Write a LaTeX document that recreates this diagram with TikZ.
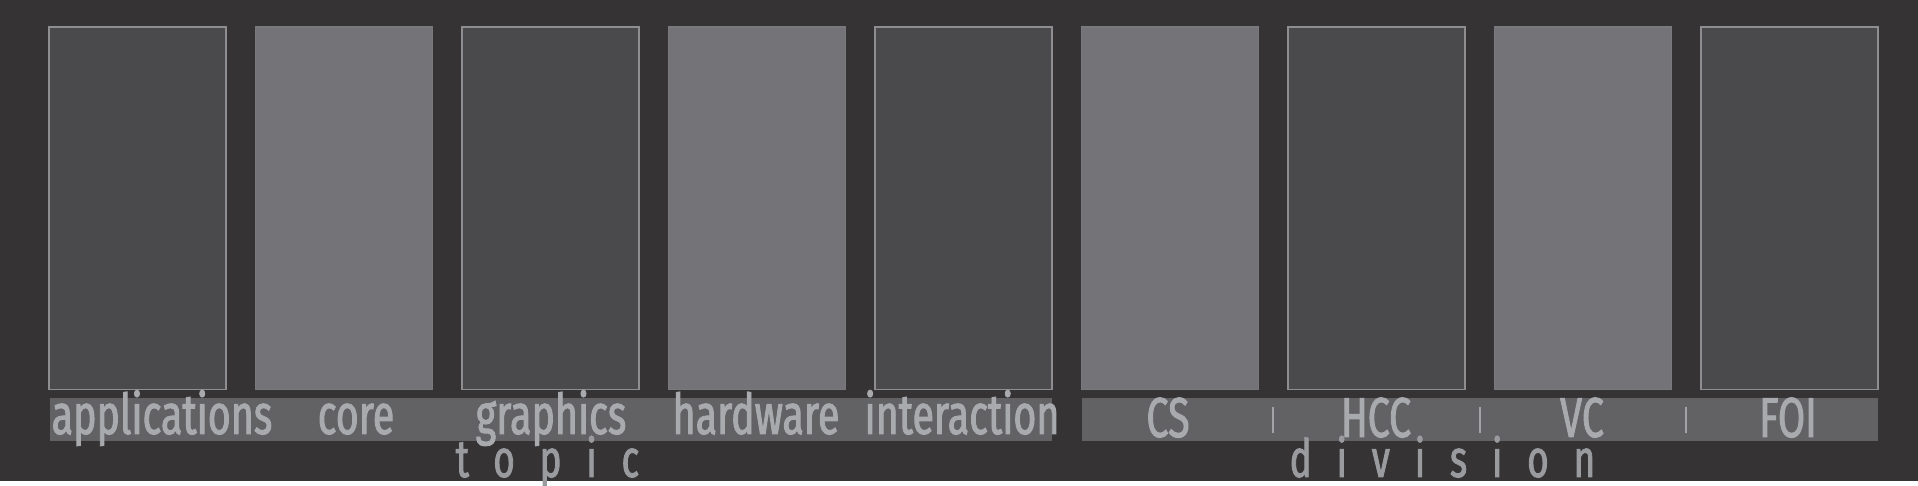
\documentclass[tikz,border=0pt]{standalone}
\usepackage{fontspec}
\setmainfont{Fira Sans}[FakeStretch=0.7,FakeBold=1.6]
\newfontfamily\axisfont{Fira Sans}[FakeStretch=0.7,FakeBold=1.6,LetterSpace=47]
\usetikzlibrary{positioning,calc}
\definecolor{panelbg}{HTML}{353334}
\definecolor{bardark}{HTML}{4A4A4C}
\definecolor{barlight}{HTML}{747478}
\definecolor{bardraw}{HTML}{8E8E90}
\definecolor{bandgrey}{HTML}{626264}
\definecolor{labelgrey}{HTML}{A9AAAE}
\definecolor{axisgrey}{HTML}{9A9B9E}

\begin{document}
\begin{tikzpicture}[x=0.01cm,y=0.01cm,
every node/.style={inner sep=0pt},
bar/.style={draw=bardraw,line width=0.45pt,minimum width=1.77cm,minimum height=3.625cm},
bardk/.style={bar,fill=bardark},
barlt/.style={bar,fill=barlight,draw=barlight!80!bardraw},
band/.style={fill=bandgrey,minimum height=0.43cm},
lbl/.style={text=labelgrey,font=\fontsize{16}{19}\selectfont},
axis/.style={text=axisgrey,font=\axisfont\fontsize{15}{18}\selectfont},
sep/.style={draw=labelgrey!90!bandgrey,line width=0.6pt}
]
\useasboundingbox (0,0) rectangle (1918,486);
\fill[white] (0,0) rectangle (1918,486);
\fill[panelbg] (0,5) rectangle (1918,486);

% bars
\node[bardk,anchor=north west] (barapps) at (48,460) {};
\node[barlt,right=0.278cm of barapps]        (barcore)        {};
\node[bardk,right=0.278cm of barcore]        (bargraphics)    {};
\node[barlt,right=0.278cm of bargraphics]    (barhardware)    {};
\node[bardk,right=0.278cm of barhardware]    (barinteraction) {};
\node[barlt,right=0.278cm of barinteraction] (barcs)          {};
\node[bardk,right=0.278cm of barcs]          (barhcc)         {};
\node[barlt,right=0.278cm of barhcc]         (barvc)          {};
\node[bardk,right=0.278cm of barvc]          (barfoi)         {};

% label strips
\node[band,minimum width=10.02cm,anchor=south west] (topicband) at (49,44) {};
\node[band,minimum width=7.96cm,anchor=south west]  (divband)   at (1081,44) {};

\node[lbl,anchor=base west] (lblapps)        at (51,52)  {applications};
\node[lbl,anchor=base]      (lblcore)        at (356,52) {core};
\node[lbl,anchor=base]      (lblgraphics)    at (551,52) {graphics};
\node[lbl,anchor=base]      (lblhardware)    at (756,52) {hardware};
\node[lbl,anchor=base]      (lblinteraction) at (962,52) {interaction};

\node[lbl,anchor=base] (lblcs)  at (1168,49) {CS};
\node[lbl,anchor=base] (lblhcc) at (1376,49) {HCC};
\node[lbl,anchor=base] (lblvc)  at (1582,49) {VC};
\node[lbl,anchor=base] (lblfoi) at (1788,49) {FOI};

\coordinate (sepa) at ($(barcs.south east)!0.5!(barhcc.south west)$);
\coordinate (sepb) at ($(barhcc.south east)!0.5!(barvc.south west)$);
\coordinate (sepc) at ($(barvc.south east)!0.5!(barfoi.south west)$);
\draw[sep] (sepa) ++(0,-17) -- ++(0,-26);
\draw[sep] (sepb) ++(0,-17) -- ++(0,-26);
\draw[sep] (sepc) ++(0,-17) -- ++(0,-26);

% axis titles
\node[axis,anchor=base west] (topictitle) at (455,9)  {topic};
\node[axis,anchor=base west] (divtitle)   at (1289,9) {division};
\end{tikzpicture}
\end{document}
